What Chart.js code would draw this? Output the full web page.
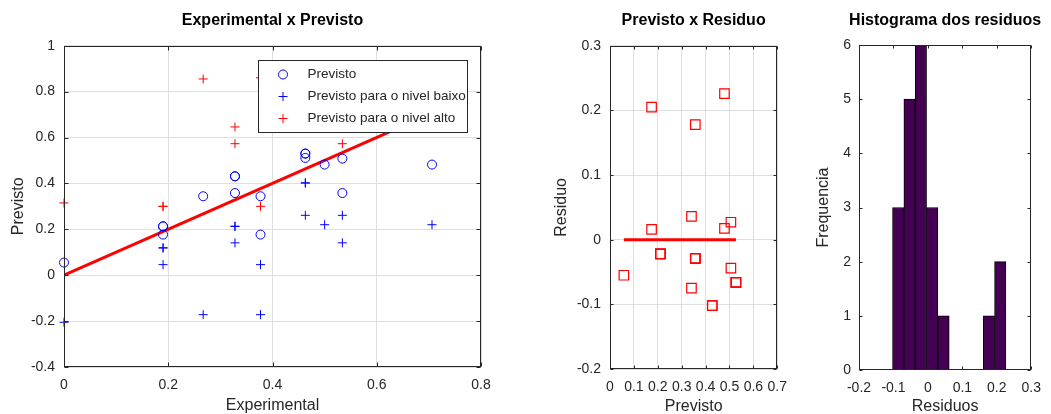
<!DOCTYPE html>
<html lang="pt-br">
<head>
<meta charset="UTF-8">
<title>Residuos</title>
<script src="https://cdn.jsdelivr.net/npm/chart.js"></script>
<style>
  html, body { margin: 0; padding: 0; background: #fff; overflow: hidden; }
  canvas { position: absolute; top: 0; }
</style>
</head>
<body>
<canvas id="graf1" width="540" height="414" style="left:0px"></canvas>
<canvas id="graf2" width="257" height="414" style="left:540px"></canvas>
<canvas id="graf3" width="254" height="414" style="left:797px"></canvas>
<script>
// ---- dados: Experimental x Previsto ----
const expPrev   = [0, 0.19, 0.19, 0.19, 0.267, 0.328, 0.328, 0.328, 0.377, 0.377, 0.463, 0.463, 0.463, 0.5, 0.534, 0.534, 0.706];
const previsto  = [0.055, 0.213, 0.213, 0.177, 0.344, 0.431, 0.431, 0.358, 0.344, 0.177, 0.53, 0.53, 0.511, 0.482, 0.508, 0.358, 0.482];
const expBaixo  = [0, 0.19, 0.19, 0.19, 0.267, 0.328, 0.328, 0.328, 0.377, 0.377, 0.463, 0.463, 0.463, 0.5, 0.534, 0.534, 0.706];
const prevBaixo = [-0.205, 0.119, 0.119, 0.046, -0.172, 0.213, 0.213, 0.141, 0.046, -0.172, 0.402, 0.402, 0.261, 0.22, 0.261, 0.141, 0.22];
const expAlto   = [0, 0.19, 0.19, 0.267, 0.328, 0.328, 0.377, 0.377, 0.463, 0.463, 0.5, 0.534, 0.534, 0.706];
const prevAlto  = [0.315, 0.3, 0.3, 0.855, 0.646, 0.573, 0.3, 0.86, 0.66, 0.76, 0.744, 0.573, 0.755, 0.744];
const retaX = [0, 0.706];
const retaY = [0, 0.706];

// ---- dados: Previsto x Residuo ----
const prevRes = [0.058, 0.174, 0.174, 0.211, 0.211, 0.211, 0.341, 0.341, 0.357, 0.357, 0.357, 0.357, 0.428, 0.428, 0.479, 0.479, 0.506, 0.506, 0.527, 0.527, 0.527];
const residuo = [-0.055, 0.205, 0.016, -0.022, -0.022, -0.022, 0.036, -0.075, 0.178, -0.029, -0.029, -0.029, -0.102, -0.102, 0.226, 0.0175, 0.027, -0.044, -0.066, -0.066, -0.066];
const zeroX = [0.058, 0.527];
const zeroY = [0, 0];

// ---- dados: Histograma dos residuos ----
const histCentros = [-0.0862, -0.0533, -0.0204, 0.0125, 0.0454, 0.177, 0.2099];
const histFreq    = [3, 5, 6, 3, 1, 1, 2];

// ---- ticks ----
const ticksX1 = [0, 0.2, 0.4, 0.6, 0.8];
const ticksY1 = [-0.4, -0.2, 0, 0.2, 0.4, 0.6, 0.8, 1];
const ticksX2 = [0, 0.1, 0.2, 0.3, 0.4, 0.5, 0.6, 0.7];
const ticksY2 = [-0.2, -0.1, 0, 0.1, 0.2, 0.3];
const ticksX3 = [-0.2, -0.1, 0, 0.1, 0.2, 0.3];
const ticksY3 = [0, 1, 2, 3, 4, 5, 6];

const FONTE = '"Liberation Sans", Arial, Helvetica, sans-serif';
const COR_EIXO = '#262626';
const COR_GRADE = '#dfdfdf';
Chart.defaults.font.family = FONTE;

const pares = (xs, ys) => xs.map((x, i) => ({ x: x, y: ys[i] }));
const fmt = v => String(Math.round(v * 100) / 100);

// caixa fechada com ticks para dentro (estilo octave)
const caixa = {
  id: 'caixa',
  afterDatasetsDraw(chart, args, opts) {
    const { ctx, chartArea: a, scales } = chart;
    const x = scales.x, y = scales.y;
    const L = Math.round(a.left) + 0.5, R = Math.round(a.right) - 0.5;
    const T = Math.round(a.top) + 0.5, B = Math.round(a.bottom) - 0.5;
    const t = opts.tick || 4;
    ctx.save();
    ctx.strokeStyle = COR_EIXO;
    ctx.lineWidth = 1;
    ctx.beginPath();
    x.ticks.forEach(k => {
      const px = Math.round(x.getPixelForValue(k.value)) + 0.5;
      ctx.moveTo(px, B); ctx.lineTo(px, B - t);
      ctx.moveTo(px, T); ctx.lineTo(px, T + t);
    });
    y.ticks.forEach(k => {
      const py = Math.round(y.getPixelForValue(k.value)) + 0.5;
      ctx.moveTo(L, py); ctx.lineTo(L + t, py);
      ctx.moveTo(R, py); ctx.lineTo(R - t, py);
    });
    ctx.stroke();
    ctx.strokeRect(L, T, R - L, B - T);
    ctx.restore();
  }
};

// titulo centrado sobre a area do grafico
const tituloTopo = {
  id: 'tituloTopo',
  afterDraw(chart, args, opts) {
    const { ctx, chartArea: a } = chart;
    ctx.save();
    ctx.font = 'bold 16px ' + FONTE;
    ctx.fillStyle = '#000';
    ctx.textAlign = 'center';
    ctx.textBaseline = 'middle';
    ctx.fillText(opts.text, (a.left + a.right) / 2, 21);
    ctx.restore();
  }
};

function marcador(ctx, estilo, r, x, y) {
  ctx.beginPath();
  if (estilo === 'circle') {
    ctx.arc(x, y, r, 0, Math.PI * 2);
  } else if (estilo === 'cross') {
    ctx.moveTo(x - r, y); ctx.lineTo(x + r, y);
    ctx.moveTo(x, y - r); ctx.lineTo(x, y + r);
  }
  ctx.stroke();
}

// legenda com caixa dentro do grafico
const legendaCaixa = {
  id: 'legendaCaixa',
  afterDraw(chart) {
    const itens = chart.data.datasets.filter(d => d.label);
    const { ctx, chartArea: a } = chart;
    ctx.save();
    ctx.font = '13.5px ' + FONTE;
    const largTexto = Math.max(...itens.map(d => ctx.measureText(d.label).width));
    const larg = Math.round(49 + largTexto + 2);
    const alt = 72;
    const x0 = Math.round(a.right - 14 - larg) + 0.5;
    const y0 = Math.round(a.top + 14) + 0.5;
    ctx.fillStyle = '#fff';
    ctx.fillRect(x0, y0, larg, alt);
    ctx.strokeStyle = COR_EIXO;
    ctx.lineWidth = 1;
    ctx.strokeRect(x0, y0, larg, alt);
    itens.forEach((d, i) => {
      const yy = y0 + 14 + i * 22;
      ctx.strokeStyle = d.pointBorderColor;
      ctx.lineWidth = 1;
      marcador(ctx, d.pointStyle, d.pointRadius, x0 + 24.5, yy);
      ctx.fillStyle = COR_EIXO;
      ctx.textBaseline = 'middle';
      ctx.fillText(d.label, x0 + 49, yy);
    });
    ctx.restore();
  }
};

function eixo(ticks, titulo, tamanho, vertical, grade, padTitulo, padTicks) {
  return {
    type: 'linear',
    min: ticks[0],
    max: ticks[ticks.length - 1],
    offset: false,
    afterBuildTicks: s => { s.ticks = ticks.map(v => ({ value: v })); },
    afterFit: s => { if (vertical) s.width = tamanho; else s.height = tamanho; },
    grid: { display: grade, color: COR_GRADE, drawTicks: false, offset: false },
    border: { display: false },
    ticks: { autoSkip: false, maxRotation: 0, padding: padTicks, color: COR_EIXO, font: { size: 14 }, callback: fmt },
    title: { display: true, text: titulo, color: COR_EIXO, font: { size: 16, lineHeight: 1 },
             padding: vertical ? { top: padTitulo, bottom: 0 } : { top: 0, bottom: padTitulo } }
  };
}

const base = {
  responsive: false,
  animation: false,
  devicePixelRatio: 1,
  events: []
};

// grafico 1
new Chart(document.getElementById('graf1'), {
  type: 'scatter',
  data: {
    datasets: [
      { label: 'Previsto', data: pares(expPrev, previsto), pointStyle: 'circle', pointRadius: 4.5, clip: false,
        pointBorderColor: '#0000ff', pointBackgroundColor: 'rgba(0,0,0,0)', pointBorderWidth: 1 },
      { label: 'Previsto para o nivel baixo', data: pares(expBaixo, prevBaixo), pointStyle: 'cross', pointRadius: 4.5, clip: false,
        pointBorderColor: '#0000ff', pointBackgroundColor: 'rgba(0,0,0,0)', pointBorderWidth: 1 },
      { label: 'Previsto para o nivel alto', data: pares(expAlto, prevAlto), pointStyle: 'cross', pointRadius: 4.5, clip: false,
        pointBorderColor: '#ff0000', pointBackgroundColor: 'rgba(0,0,0,0)', pointBorderWidth: 1 },
      { data: pares(retaX, retaY), showLine: true, borderColor: '#ff0000', borderWidth: 3, pointRadius: 0 }
    ]
  },
  options: Object.assign({}, base, {
    layout: { padding: { left: 0, right: 59, top: 45.7, bottom: 0 } },
    plugins: { legend: { display: false }, tooltip: { enabled: false },
               caixa: { tick: 4 }, tituloTopo: { text: 'Experimental x Previsto' } },
    scales: {
      x: eixo(ticksX1, 'Experimental', 47, false, true, 0.5, 10),
      y: eixo(ticksY1, 'Previsto', 64, true, true, 10.3, 9)
    }
  }),
  plugins: [caixa, tituloTopo, legendaCaixa]
});

// grafico 2
new Chart(document.getElementById('graf2'), {
  type: 'scatter',
  data: {
    datasets: [
      { data: pares(prevRes, residuo), pointStyle: 'rect', pointRadius: 6.7, clip: false,
        pointBorderColor: '#ff0000', pointBackgroundColor: 'rgba(0,0,0,0)', pointBorderWidth: 1.2 },
      { data: pares(zeroX, zeroY), showLine: true, borderColor: '#ff0000', borderWidth: 3, pointRadius: 0 }
    ]
  },
  options: Object.assign({}, base, {
    layout: { padding: { left: 0, right: 10.3, top: 45.7, bottom: 0 } },
    plugins: { legend: { display: false }, tooltip: { enabled: false },
               caixa: { tick: 3 }, tituloTopo: { text: 'Previsto x Residuo' } },
    scales: {
      x: eixo(ticksX2, 'Previsto', 45, false, true, -0.5, 10),
      y: eixo(ticksY2, 'Residuo', 70, true, true, 14, 9)
    }
  }),
  plugins: [caixa, tituloTopo]
});

// grafico 3
new Chart(document.getElementById('graf3'), {
  type: 'bar',
  data: {
    datasets: [
      { data: pares(histCentros, histFreq), backgroundColor: '#440154', borderColor: '#000', borderWidth: 1,
        borderSkipped: false, barPercentage: 1, categoryPercentage: 1 }
    ]
  },
  options: Object.assign({}, base, {
    layout: { padding: { left: 0, right: 17.3, top: 45, bottom: 0 } },
    plugins: { legend: { display: false }, tooltip: { enabled: false },
               caixa: { tick: 3 }, tituloTopo: { text: 'Histograma dos residuos' } },
    scales: {
      x: eixo(ticksX3, 'Residuos', 44, false, false, -0.5, 10),
      y: eixo(ticksY3, 'Frequencia', 62, true, false, 18.7, 8)
    }
  }),
  plugins: [caixa, tituloTopo]
});
</script>
</body>
</html>
